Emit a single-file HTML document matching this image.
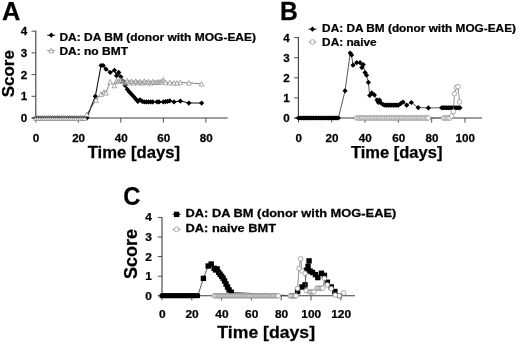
<!DOCTYPE html>
<html><head><meta charset="utf-8"><title>Figure</title>
<style>
html,body{margin:0;padding:0;background:#fff;}
svg{display:block;will-change:transform;font-family:'Liberation Sans', sans-serif;font-weight:bold;}
</style></head><body>
<svg width="520" height="344" viewBox="0 0 520 344">
<rect width="520" height="344" fill="#fff"/>
<path d="M35.8,30.70V118" fill="none" stroke="#3c3c3c" stroke-width="1.1"/>
<path d="M31.799999999999997,118H227.7" fill="none" stroke="#3c3c3c" stroke-width="1.1"/>
<path d="M31.499999999999996,118.00H35.8" stroke="#3c3c3c" stroke-width="0.9"/>
<text transform="translate(27.20,122.00) scale(1.03,1.0)" font-size="11.3" text-anchor="end" fill="#000" stroke="#000" stroke-width="0.25">0</text>
<path d="M31.499999999999996,96.30H35.8" stroke="#3c3c3c" stroke-width="0.9"/>
<text transform="translate(27.20,100.30) scale(1.03,1.0)" font-size="11.3" text-anchor="end" fill="#000" stroke="#000" stroke-width="0.25">1</text>
<path d="M31.499999999999996,74.60H35.8" stroke="#3c3c3c" stroke-width="0.9"/>
<text transform="translate(27.20,78.60) scale(1.03,1.0)" font-size="11.3" text-anchor="end" fill="#000" stroke="#000" stroke-width="0.25">2</text>
<path d="M31.499999999999996,52.90H35.8" stroke="#3c3c3c" stroke-width="0.9"/>
<text transform="translate(27.20,56.90) scale(1.03,1.0)" font-size="11.3" text-anchor="end" fill="#000" stroke="#000" stroke-width="0.25">3</text>
<path d="M31.499999999999996,31.20H35.8" stroke="#3c3c3c" stroke-width="0.9"/>
<text transform="translate(27.20,35.20) scale(1.03,1.0)" font-size="11.3" text-anchor="end" fill="#000" stroke="#000" stroke-width="0.25">4</text>
<path d="M35.80,118V122.6" stroke="#3c3c3c" stroke-width="0.9"/>
<text transform="translate(36.10,141.70) scale(1.03,1.0)" font-size="11.3" text-anchor="middle" fill="#000" stroke="#000" stroke-width="0.25">0</text>
<path d="M78.32,118V122.6" stroke="#3c3c3c" stroke-width="0.9"/>
<text transform="translate(78.62,141.70) scale(1.03,1.0)" font-size="11.3" text-anchor="middle" fill="#000" stroke="#000" stroke-width="0.25">20</text>
<path d="M120.84,118V122.6" stroke="#3c3c3c" stroke-width="0.9"/>
<text transform="translate(121.14,141.70) scale(1.03,1.0)" font-size="11.3" text-anchor="middle" fill="#000" stroke="#000" stroke-width="0.25">40</text>
<path d="M163.36,118V122.6" stroke="#3c3c3c" stroke-width="0.9"/>
<text transform="translate(163.66,141.70) scale(1.03,1.0)" font-size="11.3" text-anchor="middle" fill="#000" stroke="#000" stroke-width="0.25">60</text>
<path d="M205.88,118V122.6" stroke="#3c3c3c" stroke-width="0.9"/>
<text transform="translate(206.18,141.70) scale(1.03,1.0)" font-size="11.3" text-anchor="middle" fill="#000" stroke="#000" stroke-width="0.25">80</text>
<path d="M35.80,118.00L37.93,118.00L40.05,118.00L42.18,118.00L44.30,118.00L46.43,118.00L48.56,118.00L50.68,118.00L52.81,118.00L54.93,118.00L57.06,118.00L59.19,118.00L61.31,118.00L63.44,118.00L65.56,118.00L67.69,118.00L69.82,118.00L71.94,118.00L74.07,118.00L76.19,118.00L78.32,118.00L80.45,118.00L82.57,118.00L84.70,118.00L86.82,118.00L95.33,96.30L101.07,65.49L103.19,65.49L105.96,69.18L110.21,72.43L114.46,70.26L116.59,75.69L118.71,72.43L120.84,76.77L122.97,81.11L125.09,85.45L127.22,89.36L129.34,91.96L131.47,94.13L133.60,96.52L135.72,98.90L137.85,101.51L139.97,99.77L142.10,101.29L144.23,101.94L146.35,101.94L148.48,101.94L150.60,101.94L152.73,101.94L156.98,101.94L159.11,101.94L163.36,101.94L165.49,101.62L167.61,101.29L169.74,100.86L173.99,101.94L180.37,101.07L188.87,103.03L201.63,103.03" fill="none" stroke="#111" stroke-width="1.1"/>
<path d="M33.20,118.00L35.80,115.40L38.40,118.00L35.80,120.60Z" fill="#000" stroke="none"/>
<path d="M35.33,118.00L37.93,115.40L40.53,118.00L37.93,120.60Z" fill="#000" stroke="none"/>
<path d="M37.45,118.00L40.05,115.40L42.65,118.00L40.05,120.60Z" fill="#000" stroke="none"/>
<path d="M39.58,118.00L42.18,115.40L44.78,118.00L42.18,120.60Z" fill="#000" stroke="none"/>
<path d="M41.70,118.00L44.30,115.40L46.90,118.00L44.30,120.60Z" fill="#000" stroke="none"/>
<path d="M43.83,118.00L46.43,115.40L49.03,118.00L46.43,120.60Z" fill="#000" stroke="none"/>
<path d="M45.96,118.00L48.56,115.40L51.16,118.00L48.56,120.60Z" fill="#000" stroke="none"/>
<path d="M48.08,118.00L50.68,115.40L53.28,118.00L50.68,120.60Z" fill="#000" stroke="none"/>
<path d="M50.21,118.00L52.81,115.40L55.41,118.00L52.81,120.60Z" fill="#000" stroke="none"/>
<path d="M52.33,118.00L54.93,115.40L57.53,118.00L54.93,120.60Z" fill="#000" stroke="none"/>
<path d="M54.46,118.00L57.06,115.40L59.66,118.00L57.06,120.60Z" fill="#000" stroke="none"/>
<path d="M56.59,118.00L59.19,115.40L61.79,118.00L59.19,120.60Z" fill="#000" stroke="none"/>
<path d="M58.71,118.00L61.31,115.40L63.91,118.00L61.31,120.60Z" fill="#000" stroke="none"/>
<path d="M60.84,118.00L63.44,115.40L66.04,118.00L63.44,120.60Z" fill="#000" stroke="none"/>
<path d="M62.96,118.00L65.56,115.40L68.16,118.00L65.56,120.60Z" fill="#000" stroke="none"/>
<path d="M65.09,118.00L67.69,115.40L70.29,118.00L67.69,120.60Z" fill="#000" stroke="none"/>
<path d="M67.22,118.00L69.82,115.40L72.42,118.00L69.82,120.60Z" fill="#000" stroke="none"/>
<path d="M69.34,118.00L71.94,115.40L74.54,118.00L71.94,120.60Z" fill="#000" stroke="none"/>
<path d="M71.47,118.00L74.07,115.40L76.67,118.00L74.07,120.60Z" fill="#000" stroke="none"/>
<path d="M73.59,118.00L76.19,115.40L78.79,118.00L76.19,120.60Z" fill="#000" stroke="none"/>
<path d="M75.72,118.00L78.32,115.40L80.92,118.00L78.32,120.60Z" fill="#000" stroke="none"/>
<path d="M77.85,118.00L80.45,115.40L83.05,118.00L80.45,120.60Z" fill="#000" stroke="none"/>
<path d="M79.97,118.00L82.57,115.40L85.17,118.00L82.57,120.60Z" fill="#000" stroke="none"/>
<path d="M82.10,118.00L84.70,115.40L87.30,118.00L84.70,120.60Z" fill="#000" stroke="none"/>
<path d="M84.22,118.00L86.82,115.40L89.42,118.00L86.82,120.60Z" fill="#000" stroke="none"/>
<path d="M92.73,96.30L95.33,93.70L97.93,96.30L95.33,98.90Z" fill="#000" stroke="none"/>
<path d="M98.47,65.49L101.07,62.89L103.67,65.49L101.07,68.09Z" fill="#000" stroke="none"/>
<path d="M100.59,65.49L103.19,62.89L105.79,65.49L103.19,68.09Z" fill="#000" stroke="none"/>
<path d="M103.36,69.18L105.96,66.58L108.56,69.18L105.96,71.78Z" fill="#000" stroke="none"/>
<path d="M107.61,72.43L110.21,69.83L112.81,72.43L110.21,75.03Z" fill="#000" stroke="none"/>
<path d="M111.86,70.26L114.46,67.66L117.06,70.26L114.46,72.86Z" fill="#000" stroke="none"/>
<path d="M113.99,75.69L116.59,73.09L119.19,75.69L116.59,78.28Z" fill="#000" stroke="none"/>
<path d="M116.11,72.43L118.71,69.83L121.31,72.43L118.71,75.03Z" fill="#000" stroke="none"/>
<path d="M118.24,76.77L120.84,74.17L123.44,76.77L120.84,79.37Z" fill="#000" stroke="none"/>
<path d="M120.37,81.11L122.97,78.51L125.57,81.11L122.97,83.71Z" fill="#000" stroke="none"/>
<path d="M122.49,85.45L125.09,82.85L127.69,85.45L125.09,88.05Z" fill="#000" stroke="none"/>
<path d="M124.62,89.36L127.22,86.76L129.82,89.36L127.22,91.96Z" fill="#000" stroke="none"/>
<path d="M126.74,91.96L129.34,89.36L131.94,91.96L129.34,94.56Z" fill="#000" stroke="none"/>
<path d="M128.87,94.13L131.47,91.53L134.07,94.13L131.47,96.73Z" fill="#000" stroke="none"/>
<path d="M131.00,96.52L133.60,93.92L136.20,96.52L133.60,99.12Z" fill="#000" stroke="none"/>
<path d="M133.12,98.90L135.72,96.30L138.32,98.90L135.72,101.50Z" fill="#000" stroke="none"/>
<path d="M135.25,101.51L137.85,98.91L140.45,101.51L137.85,104.11Z" fill="#000" stroke="none"/>
<path d="M137.37,99.77L139.97,97.17L142.57,99.77L139.97,102.37Z" fill="#000" stroke="none"/>
<path d="M139.50,101.29L142.10,98.69L144.70,101.29L142.10,103.89Z" fill="#000" stroke="none"/>
<path d="M141.63,101.94L144.23,99.34L146.83,101.94L144.23,104.54Z" fill="#000" stroke="none"/>
<path d="M143.75,101.94L146.35,99.34L148.95,101.94L146.35,104.54Z" fill="#000" stroke="none"/>
<path d="M145.88,101.94L148.48,99.34L151.08,101.94L148.48,104.54Z" fill="#000" stroke="none"/>
<path d="M148.00,101.94L150.60,99.34L153.20,101.94L150.60,104.54Z" fill="#000" stroke="none"/>
<path d="M150.13,101.94L152.73,99.34L155.33,101.94L152.73,104.54Z" fill="#000" stroke="none"/>
<path d="M154.38,101.94L156.98,99.34L159.58,101.94L156.98,104.54Z" fill="#000" stroke="none"/>
<path d="M156.51,101.94L159.11,99.34L161.71,101.94L159.11,104.54Z" fill="#000" stroke="none"/>
<path d="M160.76,101.94L163.36,99.34L165.96,101.94L163.36,104.54Z" fill="#000" stroke="none"/>
<path d="M162.89,101.62L165.49,99.02L168.09,101.62L165.49,104.22Z" fill="#000" stroke="none"/>
<path d="M165.01,101.29L167.61,98.69L170.21,101.29L167.61,103.89Z" fill="#000" stroke="none"/>
<path d="M167.14,100.86L169.74,98.26L172.34,100.86L169.74,103.46Z" fill="#000" stroke="none"/>
<path d="M171.39,101.94L173.99,99.34L176.59,101.94L173.99,104.54Z" fill="#000" stroke="none"/>
<path d="M177.77,101.07L180.37,98.47L182.97,101.07L180.37,103.67Z" fill="#000" stroke="none"/>
<path d="M186.27,103.03L188.87,100.43L191.47,103.03L188.87,105.63Z" fill="#000" stroke="none"/>
<path d="M199.03,103.03L201.63,100.43L204.23,103.03L201.63,105.63Z" fill="#000" stroke="none"/>
<path d="M35.80,118.00L37.93,118.00L40.05,118.00L42.18,118.00L44.30,118.00L46.43,118.00L48.56,118.00L50.68,118.00L52.81,118.00L54.93,118.00L57.06,118.00L59.19,118.00L61.31,118.00L63.44,118.00L65.56,118.00L67.69,118.00L69.82,118.00L71.94,118.00L74.07,118.00L76.19,118.00L78.32,118.00L80.45,118.00L82.57,118.00L84.70,118.00L86.82,114.31L95.97,99.99L101.07,94.13L103.83,91.96L105.96,92.83L110.21,81.76L114.46,85.45L116.59,80.68L118.71,81.11L120.84,80.03L122.97,81.11L125.09,82.85L127.22,80.68L129.34,82.41L131.47,81.11L133.60,82.85L135.72,81.11L137.85,82.41L139.97,81.54L142.10,82.85L144.23,81.11L146.35,82.41L148.48,81.54L150.60,82.85L152.73,81.54L154.86,82.41L156.98,81.98L159.11,81.98L161.23,81.54L163.36,79.81L165.49,82.41L169.74,82.41L173.99,82.85L177.18,82.85L180.37,82.41L188.87,82.85L201.63,83.82" fill="none" stroke="#4a4a4a" stroke-width="0.7"/>
<path d="M33.50,120.30L35.80,115.70L38.10,120.30Z" fill="#fff" fill-opacity="1" stroke="#858585" stroke-width="0.7"/>
<path d="M35.63,120.30L37.93,115.70L40.23,120.30Z" fill="#fff" fill-opacity="1" stroke="#858585" stroke-width="0.7"/>
<path d="M37.75,120.30L40.05,115.70L42.35,120.30Z" fill="#fff" fill-opacity="1" stroke="#858585" stroke-width="0.7"/>
<path d="M39.88,120.30L42.18,115.70L44.48,120.30Z" fill="#fff" fill-opacity="1" stroke="#858585" stroke-width="0.7"/>
<path d="M42.00,120.30L44.30,115.70L46.60,120.30Z" fill="#fff" fill-opacity="1" stroke="#858585" stroke-width="0.7"/>
<path d="M44.13,120.30L46.43,115.70L48.73,120.30Z" fill="#fff" fill-opacity="1" stroke="#858585" stroke-width="0.7"/>
<path d="M46.26,120.30L48.56,115.70L50.86,120.30Z" fill="#fff" fill-opacity="1" stroke="#858585" stroke-width="0.7"/>
<path d="M48.38,120.30L50.68,115.70L52.98,120.30Z" fill="#fff" fill-opacity="1" stroke="#858585" stroke-width="0.7"/>
<path d="M50.51,120.30L52.81,115.70L55.11,120.30Z" fill="#fff" fill-opacity="1" stroke="#858585" stroke-width="0.7"/>
<path d="M52.63,120.30L54.93,115.70L57.23,120.30Z" fill="#fff" fill-opacity="1" stroke="#858585" stroke-width="0.7"/>
<path d="M54.76,120.30L57.06,115.70L59.36,120.30Z" fill="#fff" fill-opacity="1" stroke="#858585" stroke-width="0.7"/>
<path d="M56.89,120.30L59.19,115.70L61.49,120.30Z" fill="#fff" fill-opacity="1" stroke="#858585" stroke-width="0.7"/>
<path d="M59.01,120.30L61.31,115.70L63.61,120.30Z" fill="#fff" fill-opacity="1" stroke="#858585" stroke-width="0.7"/>
<path d="M61.14,120.30L63.44,115.70L65.74,120.30Z" fill="#fff" fill-opacity="1" stroke="#858585" stroke-width="0.7"/>
<path d="M63.26,120.30L65.56,115.70L67.86,120.30Z" fill="#fff" fill-opacity="1" stroke="#858585" stroke-width="0.7"/>
<path d="M65.39,120.30L67.69,115.70L69.99,120.30Z" fill="#fff" fill-opacity="1" stroke="#858585" stroke-width="0.7"/>
<path d="M67.52,120.30L69.82,115.70L72.12,120.30Z" fill="#fff" fill-opacity="1" stroke="#858585" stroke-width="0.7"/>
<path d="M69.64,120.30L71.94,115.70L74.24,120.30Z" fill="#fff" fill-opacity="1" stroke="#858585" stroke-width="0.7"/>
<path d="M71.77,120.30L74.07,115.70L76.37,120.30Z" fill="#fff" fill-opacity="1" stroke="#858585" stroke-width="0.7"/>
<path d="M73.89,120.30L76.19,115.70L78.49,120.30Z" fill="#fff" fill-opacity="1" stroke="#858585" stroke-width="0.7"/>
<path d="M76.02,120.30L78.32,115.70L80.62,120.30Z" fill="#fff" fill-opacity="1" stroke="#858585" stroke-width="0.7"/>
<path d="M78.15,120.30L80.45,115.70L82.75,120.30Z" fill="#fff" fill-opacity="1" stroke="#858585" stroke-width="0.7"/>
<path d="M80.27,120.30L82.57,115.70L84.87,120.30Z" fill="#fff" fill-opacity="1" stroke="#858585" stroke-width="0.7"/>
<path d="M82.40,120.30L84.70,115.70L87.00,120.30Z" fill="#fff" fill-opacity="1" stroke="#858585" stroke-width="0.7"/>
<path d="M84.52,116.61L86.82,112.01L89.12,116.61Z" fill="#fff" fill-opacity="1" stroke="#858585" stroke-width="0.7"/>
<path d="M93.67,102.29L95.97,97.69L98.27,102.29Z" fill="#fff" fill-opacity="1" stroke="#858585" stroke-width="0.7"/>
<path d="M98.77,96.43L101.07,91.83L103.37,96.43Z" fill="#fff" fill-opacity="1" stroke="#858585" stroke-width="0.7"/>
<path d="M101.53,94.26L103.83,89.66L106.13,94.26Z" fill="#fff" fill-opacity="0.4" stroke="#858585" stroke-width="0.7"/>
<path d="M103.66,95.13L105.96,90.53L108.26,95.13Z" fill="#fff" fill-opacity="1" stroke="#858585" stroke-width="0.7"/>
<path d="M107.91,84.06L110.21,79.46L112.51,84.06Z" fill="#fff" fill-opacity="1" stroke="#858585" stroke-width="0.7"/>
<path d="M112.16,87.75L114.46,83.15L116.76,87.75Z" fill="#fff" fill-opacity="1" stroke="#858585" stroke-width="0.7"/>
<path d="M114.29,82.98L116.59,78.38L118.89,82.98Z" fill="#fff" fill-opacity="0.4" stroke="#858585" stroke-width="0.7"/>
<path d="M116.41,83.41L118.71,78.81L121.01,83.41Z" fill="#fff" fill-opacity="0.4" stroke="#858585" stroke-width="0.7"/>
<path d="M118.54,82.33L120.84,77.73L123.14,82.33Z" fill="#fff" fill-opacity="0.4" stroke="#858585" stroke-width="0.7"/>
<path d="M120.67,83.41L122.97,78.81L125.27,83.41Z" fill="#fff" fill-opacity="0.4" stroke="#858585" stroke-width="0.7"/>
<path d="M122.79,85.15L125.09,80.55L127.39,85.15Z" fill="#fff" fill-opacity="0.4" stroke="#858585" stroke-width="0.7"/>
<path d="M124.92,82.98L127.22,78.38L129.52,82.98Z" fill="#fff" fill-opacity="0.4" stroke="#858585" stroke-width="0.7"/>
<path d="M127.04,84.71L129.34,80.11L131.64,84.71Z" fill="#fff" fill-opacity="0.4" stroke="#858585" stroke-width="0.7"/>
<path d="M129.17,83.41L131.47,78.81L133.77,83.41Z" fill="#fff" fill-opacity="0.4" stroke="#858585" stroke-width="0.7"/>
<path d="M131.30,85.15L133.60,80.55L135.90,85.15Z" fill="#fff" fill-opacity="0.4" stroke="#858585" stroke-width="0.7"/>
<path d="M133.42,83.41L135.72,78.81L138.02,83.41Z" fill="#fff" fill-opacity="0.4" stroke="#858585" stroke-width="0.7"/>
<path d="M135.55,84.71L137.85,80.11L140.15,84.71Z" fill="#fff" fill-opacity="0.4" stroke="#858585" stroke-width="0.7"/>
<path d="M137.67,83.84L139.97,79.24L142.27,83.84Z" fill="#fff" fill-opacity="0.4" stroke="#858585" stroke-width="0.7"/>
<path d="M139.80,85.15L142.10,80.55L144.40,85.15Z" fill="#fff" fill-opacity="0.4" stroke="#858585" stroke-width="0.7"/>
<path d="M141.93,83.41L144.23,78.81L146.53,83.41Z" fill="#fff" fill-opacity="0.4" stroke="#858585" stroke-width="0.7"/>
<path d="M144.05,84.71L146.35,80.11L148.65,84.71Z" fill="#fff" fill-opacity="0.4" stroke="#858585" stroke-width="0.7"/>
<path d="M146.18,83.84L148.48,79.24L150.78,83.84Z" fill="#fff" fill-opacity="0.4" stroke="#858585" stroke-width="0.7"/>
<path d="M148.30,85.15L150.60,80.55L152.90,85.15Z" fill="#fff" fill-opacity="0.4" stroke="#858585" stroke-width="0.7"/>
<path d="M150.43,83.84L152.73,79.24L155.03,83.84Z" fill="#fff" fill-opacity="0.4" stroke="#858585" stroke-width="0.7"/>
<path d="M152.56,84.71L154.86,80.11L157.16,84.71Z" fill="#fff" fill-opacity="0.4" stroke="#858585" stroke-width="0.7"/>
<path d="M154.68,84.28L156.98,79.68L159.28,84.28Z" fill="#fff" fill-opacity="0.4" stroke="#858585" stroke-width="0.7"/>
<path d="M156.81,84.28L159.11,79.68L161.41,84.28Z" fill="#fff" fill-opacity="0.4" stroke="#858585" stroke-width="0.7"/>
<path d="M158.93,83.84L161.23,79.24L163.53,83.84Z" fill="#fff" fill-opacity="0.4" stroke="#858585" stroke-width="0.7"/>
<path d="M161.06,82.11L163.36,77.51L165.66,82.11Z" fill="#fff" fill-opacity="0.4" stroke="#858585" stroke-width="0.7"/>
<path d="M163.19,84.71L165.49,80.11L167.79,84.71Z" fill="#fff" fill-opacity="1" stroke="#858585" stroke-width="0.7"/>
<path d="M167.44,84.71L169.74,80.11L172.04,84.71Z" fill="#fff" fill-opacity="1" stroke="#858585" stroke-width="0.7"/>
<path d="M171.69,85.15L173.99,80.55L176.29,85.15Z" fill="#fff" fill-opacity="1" stroke="#858585" stroke-width="0.7"/>
<path d="M174.88,85.15L177.18,80.55L179.48,85.15Z" fill="#fff" fill-opacity="1" stroke="#858585" stroke-width="0.7"/>
<path d="M178.07,84.71L180.37,80.11L182.67,84.71Z" fill="#fff" fill-opacity="1" stroke="#858585" stroke-width="0.7"/>
<path d="M186.57,85.15L188.87,80.55L191.17,85.15Z" fill="#fff" fill-opacity="1" stroke="#858585" stroke-width="0.7"/>
<path d="M199.33,86.12L201.63,81.52L203.93,86.12Z" fill="#fff" fill-opacity="1" stroke="#858585" stroke-width="0.7"/>
<path d="M34.80,117.50H85.76" stroke="#222" stroke-width="1.3" stroke-opacity="0.6"/>
<path d="M47.2,35.2H55.2" stroke="#000" stroke-width="0.9"/>
<path d="M48.60,35.20L51.20,32.60L53.80,35.20L51.20,37.80Z" fill="#000" stroke="none"/>
<text transform="translate(59.40,41.30) scale(1.053,1.0)" font-size="11.4" text-anchor="start" fill="#000" stroke="#000" stroke-width="0.25">DA: DA BM (donor with MOG-EAE)</text>
<path d="M47.2,50.5H55.2" stroke="#888" stroke-width="0.9"/>
<path d="M48.90,52.80L51.20,48.20L53.50,52.80Z" fill="#fff" fill-opacity="1" stroke="#858585" stroke-width="0.7"/>
<text transform="translate(59.40,54.90) scale(1.053,1.0)" font-size="11.4" text-anchor="start" fill="#000" stroke="#000" stroke-width="0.25">DA: no BMT</text>
<text transform="translate(133.90,158.40) scale(1.012,1.0)" font-size="16.5" text-anchor="middle" fill="#000" stroke="#000" stroke-width="0.25">Time [days]</text>
<text transform="translate(13.80,73.70) rotate(-90) scale(1.0,1.02)" font-size="17.0" text-anchor="middle" fill="#000" stroke="#000" stroke-width="0.25">Score</text>
<text transform="translate(2.10,19.80)" font-size="25.4" text-anchor="start" fill="#000" stroke="#000" stroke-width="0.25">A</text>
<path d="M298.4,37.10V118" fill="none" stroke="#3c3c3c" stroke-width="1.1"/>
<path d="M294.4,118H482" fill="none" stroke="#3c3c3c" stroke-width="1.1"/>
<path d="M294.09999999999997,118.00H298.4" stroke="#3c3c3c" stroke-width="0.9"/>
<text transform="translate(289.80,122.00) scale(1.03,1.0)" font-size="11.3" text-anchor="end" fill="#000" stroke="#000" stroke-width="0.25">0</text>
<path d="M294.09999999999997,97.90H298.4" stroke="#3c3c3c" stroke-width="0.9"/>
<text transform="translate(289.80,101.90) scale(1.03,1.0)" font-size="11.3" text-anchor="end" fill="#000" stroke="#000" stroke-width="0.25">1</text>
<path d="M294.09999999999997,77.80H298.4" stroke="#3c3c3c" stroke-width="0.9"/>
<text transform="translate(289.80,81.80) scale(1.03,1.0)" font-size="11.3" text-anchor="end" fill="#000" stroke="#000" stroke-width="0.25">2</text>
<path d="M294.09999999999997,57.70H298.4" stroke="#3c3c3c" stroke-width="0.9"/>
<text transform="translate(289.80,61.70) scale(1.03,1.0)" font-size="11.3" text-anchor="end" fill="#000" stroke="#000" stroke-width="0.25">3</text>
<path d="M294.09999999999997,37.60H298.4" stroke="#3c3c3c" stroke-width="0.9"/>
<text transform="translate(289.80,41.60) scale(1.03,1.0)" font-size="11.3" text-anchor="end" fill="#000" stroke="#000" stroke-width="0.25">4</text>
<path d="M298.40,118V122.6" stroke="#3c3c3c" stroke-width="0.9"/>
<text transform="translate(298.70,141.70) scale(1.03,1.0)" font-size="11.3" text-anchor="middle" fill="#000" stroke="#000" stroke-width="0.25">0</text>
<path d="M331.72,118V122.6" stroke="#3c3c3c" stroke-width="0.9"/>
<text transform="translate(332.02,141.70) scale(1.03,1.0)" font-size="11.3" text-anchor="middle" fill="#000" stroke="#000" stroke-width="0.25">20</text>
<path d="M365.04,118V122.6" stroke="#3c3c3c" stroke-width="0.9"/>
<text transform="translate(365.34,141.70) scale(1.03,1.0)" font-size="11.3" text-anchor="middle" fill="#000" stroke="#000" stroke-width="0.25">40</text>
<path d="M398.36,118V122.6" stroke="#3c3c3c" stroke-width="0.9"/>
<text transform="translate(398.66,141.70) scale(1.03,1.0)" font-size="11.3" text-anchor="middle" fill="#000" stroke="#000" stroke-width="0.25">60</text>
<path d="M431.68,118V122.6" stroke="#3c3c3c" stroke-width="0.9"/>
<text transform="translate(431.98,141.70) scale(1.03,1.0)" font-size="11.3" text-anchor="middle" fill="#000" stroke="#000" stroke-width="0.25">80</text>
<path d="M465.00,118V122.6" stroke="#3c3c3c" stroke-width="0.9"/>
<text transform="translate(465.30,141.70) scale(1.03,1.0)" font-size="11.3" text-anchor="middle" fill="#000" stroke="#000" stroke-width="0.25">100</text>
<path d="M298.40,118.00L300.07,118.00L301.73,118.00L303.40,118.00L305.06,118.00L306.73,118.00L308.40,118.00L310.06,118.00L311.73,118.00L313.39,118.00L315.06,118.00L316.73,118.00L318.39,118.00L320.06,118.00L321.72,118.00L323.39,118.00L325.06,118.00L326.72,118.00L328.39,118.00L330.05,118.00L331.72,118.00L333.39,118.00L335.05,118.00L336.72,118.00L338.38,118.00L345.05,90.86L350.21,53.08L351.55,54.89L353.04,65.14L356.71,62.72L360.04,62.72L361.87,67.55L363.21,64.53L365.04,72.57L366.54,75.19L368.37,82.42L369.70,95.49L371.70,92.88L374.37,94.89L377.04,100.11L378.37,102.52L379.53,100.11L381.20,103.13L383.37,104.73L385.03,105.14L386.70,105.14L388.36,105.14L390.03,105.14L391.70,105.14L393.36,105.14L395.03,105.14L396.69,105.14L398.36,105.14L400.69,103.53L403.02,102.12L406.69,105.14L411.35,102.52L418.19,107.55L428.35,107.95L441.68,107.75L443.34,107.75L445.01,107.75L446.67,107.75L448.34,107.75L450.01,107.75L451.67,107.75L453.34,107.75L455.00,107.75L456.67,107.75L458.34,107.75L460.00,107.75" fill="none" stroke="#111" stroke-width="0.7"/>
<path d="M298.40,118.00H338.38" stroke="#000" stroke-width="3.8"/>
<path d="M385.03,105.14H398.36" stroke="#000" stroke-width="3.8"/>
<path d="M441.68,107.75H460.00" stroke="#000" stroke-width="3.8"/>
<path d="M295.80,118.00L298.40,115.40L301.00,118.00L298.40,120.60Z" fill="#000" stroke="none"/>
<path d="M297.47,118.00L300.07,115.40L302.67,118.00L300.07,120.60Z" fill="#000" stroke="none"/>
<path d="M299.13,118.00L301.73,115.40L304.33,118.00L301.73,120.60Z" fill="#000" stroke="none"/>
<path d="M300.80,118.00L303.40,115.40L306.00,118.00L303.40,120.60Z" fill="#000" stroke="none"/>
<path d="M302.46,118.00L305.06,115.40L307.66,118.00L305.06,120.60Z" fill="#000" stroke="none"/>
<path d="M304.13,118.00L306.73,115.40L309.33,118.00L306.73,120.60Z" fill="#000" stroke="none"/>
<path d="M305.80,118.00L308.40,115.40L311.00,118.00L308.40,120.60Z" fill="#000" stroke="none"/>
<path d="M307.46,118.00L310.06,115.40L312.66,118.00L310.06,120.60Z" fill="#000" stroke="none"/>
<path d="M309.13,118.00L311.73,115.40L314.33,118.00L311.73,120.60Z" fill="#000" stroke="none"/>
<path d="M310.79,118.00L313.39,115.40L315.99,118.00L313.39,120.60Z" fill="#000" stroke="none"/>
<path d="M312.46,118.00L315.06,115.40L317.66,118.00L315.06,120.60Z" fill="#000" stroke="none"/>
<path d="M314.13,118.00L316.73,115.40L319.33,118.00L316.73,120.60Z" fill="#000" stroke="none"/>
<path d="M315.79,118.00L318.39,115.40L320.99,118.00L318.39,120.60Z" fill="#000" stroke="none"/>
<path d="M317.46,118.00L320.06,115.40L322.66,118.00L320.06,120.60Z" fill="#000" stroke="none"/>
<path d="M319.12,118.00L321.72,115.40L324.32,118.00L321.72,120.60Z" fill="#000" stroke="none"/>
<path d="M320.79,118.00L323.39,115.40L325.99,118.00L323.39,120.60Z" fill="#000" stroke="none"/>
<path d="M322.46,118.00L325.06,115.40L327.66,118.00L325.06,120.60Z" fill="#000" stroke="none"/>
<path d="M324.12,118.00L326.72,115.40L329.32,118.00L326.72,120.60Z" fill="#000" stroke="none"/>
<path d="M325.79,118.00L328.39,115.40L330.99,118.00L328.39,120.60Z" fill="#000" stroke="none"/>
<path d="M327.45,118.00L330.05,115.40L332.65,118.00L330.05,120.60Z" fill="#000" stroke="none"/>
<path d="M329.12,118.00L331.72,115.40L334.32,118.00L331.72,120.60Z" fill="#000" stroke="none"/>
<path d="M330.79,118.00L333.39,115.40L335.99,118.00L333.39,120.60Z" fill="#000" stroke="none"/>
<path d="M332.45,118.00L335.05,115.40L337.65,118.00L335.05,120.60Z" fill="#000" stroke="none"/>
<path d="M334.12,118.00L336.72,115.40L339.32,118.00L336.72,120.60Z" fill="#000" stroke="none"/>
<path d="M335.78,118.00L338.38,115.40L340.98,118.00L338.38,120.60Z" fill="#000" stroke="none"/>
<path d="M342.45,90.86L345.05,88.27L347.65,90.86L345.05,93.46Z" fill="#000" stroke="none"/>
<path d="M347.61,53.08L350.21,50.48L352.81,53.08L350.21,55.68Z" fill="#000" stroke="none"/>
<path d="M348.95,54.89L351.55,52.29L354.15,54.89L351.55,57.49Z" fill="#000" stroke="none"/>
<path d="M350.44,65.14L353.04,62.54L355.64,65.14L353.04,67.74Z" fill="#000" stroke="none"/>
<path d="M354.11,62.72L356.71,60.12L359.31,62.72L356.71,65.32Z" fill="#000" stroke="none"/>
<path d="M357.44,62.72L360.04,60.12L362.64,62.72L360.04,65.32Z" fill="#000" stroke="none"/>
<path d="M359.27,67.55L361.87,64.95L364.47,67.55L361.87,70.15Z" fill="#000" stroke="none"/>
<path d="M360.61,64.53L363.21,61.93L365.81,64.53L363.21,67.13Z" fill="#000" stroke="none"/>
<path d="M362.44,72.57L365.04,69.97L367.64,72.57L365.04,75.17Z" fill="#000" stroke="none"/>
<path d="M363.94,75.19L366.54,72.59L369.14,75.19L366.54,77.79Z" fill="#000" stroke="none"/>
<path d="M365.77,82.42L368.37,79.82L370.97,82.42L368.37,85.02Z" fill="#000" stroke="none"/>
<path d="M367.10,95.49L369.70,92.89L372.30,95.49L369.70,98.09Z" fill="#000" stroke="none"/>
<path d="M369.10,92.88L371.70,90.28L374.30,92.88L371.70,95.47Z" fill="#000" stroke="none"/>
<path d="M371.77,94.89L374.37,92.29L376.97,94.89L374.37,97.48Z" fill="#000" stroke="none"/>
<path d="M374.44,100.11L377.04,97.51L379.64,100.11L377.04,102.71Z" fill="#000" stroke="none"/>
<path d="M375.77,102.52L378.37,99.92L380.97,102.52L378.37,105.12Z" fill="#000" stroke="none"/>
<path d="M376.93,100.11L379.53,97.51L382.13,100.11L379.53,102.71Z" fill="#000" stroke="none"/>
<path d="M378.60,103.13L381.20,100.53L383.80,103.13L381.20,105.73Z" fill="#000" stroke="none"/>
<path d="M380.77,104.73L383.37,102.13L385.97,104.73L383.37,107.33Z" fill="#000" stroke="none"/>
<path d="M382.43,105.14L385.03,102.54L387.63,105.14L385.03,107.74Z" fill="#000" stroke="none"/>
<path d="M384.10,105.14L386.70,102.54L389.30,105.14L386.70,107.74Z" fill="#000" stroke="none"/>
<path d="M385.76,105.14L388.36,102.54L390.96,105.14L388.36,107.74Z" fill="#000" stroke="none"/>
<path d="M387.43,105.14L390.03,102.54L392.63,105.14L390.03,107.74Z" fill="#000" stroke="none"/>
<path d="M389.10,105.14L391.70,102.54L394.30,105.14L391.70,107.74Z" fill="#000" stroke="none"/>
<path d="M390.76,105.14L393.36,102.54L395.96,105.14L393.36,107.74Z" fill="#000" stroke="none"/>
<path d="M392.43,105.14L395.03,102.54L397.63,105.14L395.03,107.74Z" fill="#000" stroke="none"/>
<path d="M394.09,105.14L396.69,102.54L399.29,105.14L396.69,107.74Z" fill="#000" stroke="none"/>
<path d="M395.76,105.14L398.36,102.54L400.96,105.14L398.36,107.74Z" fill="#000" stroke="none"/>
<path d="M398.09,103.53L400.69,100.93L403.29,103.53L400.69,106.13Z" fill="#000" stroke="none"/>
<path d="M400.42,102.12L403.02,99.52L405.62,102.12L403.02,104.72Z" fill="#000" stroke="none"/>
<path d="M404.09,105.14L406.69,102.54L409.29,105.14L406.69,107.74Z" fill="#000" stroke="none"/>
<path d="M408.75,102.52L411.35,99.92L413.95,102.52L411.35,105.12Z" fill="#000" stroke="none"/>
<path d="M415.59,107.55L418.19,104.95L420.79,107.55L418.19,110.15Z" fill="#000" stroke="none"/>
<path d="M425.75,107.95L428.35,105.35L430.95,107.95L428.35,110.55Z" fill="#000" stroke="none"/>
<path d="M439.08,107.75L441.68,105.15L444.28,107.75L441.68,110.35Z" fill="#000" stroke="none"/>
<path d="M440.74,107.75L443.34,105.15L445.94,107.75L443.34,110.35Z" fill="#000" stroke="none"/>
<path d="M442.41,107.75L445.01,105.15L447.61,107.75L445.01,110.35Z" fill="#000" stroke="none"/>
<path d="M444.07,107.75L446.67,105.15L449.27,107.75L446.67,110.35Z" fill="#000" stroke="none"/>
<path d="M445.74,107.75L448.34,105.15L450.94,107.75L448.34,110.35Z" fill="#000" stroke="none"/>
<path d="M447.41,107.75L450.01,105.15L452.61,107.75L450.01,110.35Z" fill="#000" stroke="none"/>
<path d="M449.07,107.75L451.67,105.15L454.27,107.75L451.67,110.35Z" fill="#000" stroke="none"/>
<path d="M450.74,107.75L453.34,105.15L455.94,107.75L453.34,110.35Z" fill="#000" stroke="none"/>
<path d="M452.40,107.75L455.00,105.15L457.60,107.75L455.00,110.35Z" fill="#000" stroke="none"/>
<path d="M454.07,107.75L456.67,105.15L459.27,107.75L456.67,110.35Z" fill="#000" stroke="none"/>
<path d="M455.74,107.75L458.34,105.15L460.94,107.75L458.34,110.35Z" fill="#000" stroke="none"/>
<path d="M457.40,107.75L460.00,105.15L462.60,107.75L460.00,110.35Z" fill="#000" stroke="none"/>
<path d="M356.71,118.00L358.38,118.00L360.04,118.00L361.71,118.00L363.37,118.00L365.04,118.00L366.71,118.00L368.37,118.00L370.04,118.00L371.70,118.00L373.37,118.00L375.04,118.00L376.70,118.00L378.37,118.00L380.03,118.00L381.70,118.00L383.37,118.00L385.03,118.00L386.70,118.00L388.36,118.00L390.03,118.00L391.70,118.00L393.36,118.00L395.03,118.00L396.69,118.00L398.36,118.00L400.03,118.00L401.69,118.00L403.36,118.00L405.02,118.00L406.69,118.00L408.36,118.00L410.02,118.00L411.69,118.00L413.35,118.00L415.02,118.00L416.69,118.00L418.35,118.00L420.02,118.00L421.68,118.00L423.35,118.00L425.02,118.00L426.68,118.00L428.35,118.00L443.34,118.00L445.01,118.00L446.67,118.00L448.34,118.00L450.01,118.00L451.67,115.99L453.34,111.57L454.50,93.68L456.34,87.45L458.00,86.64L459.50,101.92" fill="none" stroke="#666" stroke-width="0.7"/>
<circle cx="356.71" cy="118.00" r="2.3" fill="#fff"/>
<circle cx="358.38" cy="118.00" r="2.3" fill="#fff"/>
<circle cx="360.04" cy="118.00" r="2.3" fill="#fff"/>
<circle cx="361.71" cy="118.00" r="2.3" fill="#fff"/>
<circle cx="363.37" cy="118.00" r="2.3" fill="#fff"/>
<circle cx="365.04" cy="118.00" r="2.3" fill="#fff"/>
<circle cx="366.71" cy="118.00" r="2.3" fill="#fff"/>
<circle cx="368.37" cy="118.00" r="2.3" fill="#fff"/>
<circle cx="370.04" cy="118.00" r="2.3" fill="#fff"/>
<circle cx="371.70" cy="118.00" r="2.3" fill="#fff"/>
<circle cx="373.37" cy="118.00" r="2.3" fill="#fff"/>
<circle cx="375.04" cy="118.00" r="2.3" fill="#fff"/>
<circle cx="376.70" cy="118.00" r="2.3" fill="#fff"/>
<circle cx="378.37" cy="118.00" r="2.3" fill="#fff"/>
<circle cx="380.03" cy="118.00" r="2.3" fill="#fff"/>
<circle cx="381.70" cy="118.00" r="2.3" fill="#fff"/>
<circle cx="383.37" cy="118.00" r="2.3" fill="#fff"/>
<circle cx="385.03" cy="118.00" r="2.3" fill="#fff"/>
<circle cx="386.70" cy="118.00" r="2.3" fill="#fff"/>
<circle cx="388.36" cy="118.00" r="2.3" fill="#fff"/>
<circle cx="390.03" cy="118.00" r="2.3" fill="#fff"/>
<circle cx="391.70" cy="118.00" r="2.3" fill="#fff"/>
<circle cx="393.36" cy="118.00" r="2.3" fill="#fff"/>
<circle cx="395.03" cy="118.00" r="2.3" fill="#fff"/>
<circle cx="396.69" cy="118.00" r="2.3" fill="#fff"/>
<circle cx="398.36" cy="118.00" r="2.3" fill="#fff"/>
<circle cx="400.03" cy="118.00" r="2.3" fill="#fff"/>
<circle cx="401.69" cy="118.00" r="2.3" fill="#fff"/>
<circle cx="403.36" cy="118.00" r="2.3" fill="#fff"/>
<circle cx="405.02" cy="118.00" r="2.3" fill="#fff"/>
<circle cx="406.69" cy="118.00" r="2.3" fill="#fff"/>
<circle cx="408.36" cy="118.00" r="2.3" fill="#fff"/>
<circle cx="410.02" cy="118.00" r="2.3" fill="#fff"/>
<circle cx="411.69" cy="118.00" r="2.3" fill="#fff"/>
<circle cx="413.35" cy="118.00" r="2.3" fill="#fff"/>
<circle cx="415.02" cy="118.00" r="2.3" fill="#fff"/>
<circle cx="416.69" cy="118.00" r="2.3" fill="#fff"/>
<circle cx="418.35" cy="118.00" r="2.3" fill="#fff"/>
<circle cx="420.02" cy="118.00" r="2.3" fill="#fff"/>
<circle cx="421.68" cy="118.00" r="2.3" fill="#fff"/>
<circle cx="423.35" cy="118.00" r="2.3" fill="#fff"/>
<circle cx="425.02" cy="118.00" r="2.3" fill="#fff"/>
<circle cx="426.68" cy="118.00" r="2.3" fill="#fff"/>
<circle cx="428.35" cy="118.00" r="2.3" fill="#fff"/>
<circle cx="443.34" cy="118.00" r="2.3" fill="#fff"/>
<circle cx="445.01" cy="118.00" r="2.3" fill="#fff"/>
<circle cx="446.67" cy="118.00" r="2.3" fill="#fff"/>
<circle cx="448.34" cy="118.00" r="2.3" fill="#fff"/>
<circle cx="450.01" cy="118.00" r="2.3" fill="#fff"/>
<circle cx="356.71" cy="118.00" r="2.3" fill="#fff" fill-opacity="0.6" stroke="#888" stroke-width="0.7"/>
<circle cx="358.38" cy="118.00" r="2.3" fill="#fff" fill-opacity="0.6" stroke="#888" stroke-width="0.7"/>
<circle cx="360.04" cy="118.00" r="2.3" fill="#fff" fill-opacity="0.6" stroke="#888" stroke-width="0.7"/>
<circle cx="361.71" cy="118.00" r="2.3" fill="#fff" fill-opacity="0.6" stroke="#888" stroke-width="0.7"/>
<circle cx="363.37" cy="118.00" r="2.3" fill="#fff" fill-opacity="0.6" stroke="#888" stroke-width="0.7"/>
<circle cx="365.04" cy="118.00" r="2.3" fill="#fff" fill-opacity="0.6" stroke="#888" stroke-width="0.7"/>
<circle cx="366.71" cy="118.00" r="2.3" fill="#fff" fill-opacity="0.6" stroke="#888" stroke-width="0.7"/>
<circle cx="368.37" cy="118.00" r="2.3" fill="#fff" fill-opacity="0.6" stroke="#888" stroke-width="0.7"/>
<circle cx="370.04" cy="118.00" r="2.3" fill="#fff" fill-opacity="0.6" stroke="#888" stroke-width="0.7"/>
<circle cx="371.70" cy="118.00" r="2.3" fill="#fff" fill-opacity="0.6" stroke="#888" stroke-width="0.7"/>
<circle cx="373.37" cy="118.00" r="2.3" fill="#fff" fill-opacity="0.6" stroke="#888" stroke-width="0.7"/>
<circle cx="375.04" cy="118.00" r="2.3" fill="#fff" fill-opacity="0.6" stroke="#888" stroke-width="0.7"/>
<circle cx="376.70" cy="118.00" r="2.3" fill="#fff" fill-opacity="0.6" stroke="#888" stroke-width="0.7"/>
<circle cx="378.37" cy="118.00" r="2.3" fill="#fff" fill-opacity="0.6" stroke="#888" stroke-width="0.7"/>
<circle cx="380.03" cy="118.00" r="2.3" fill="#fff" fill-opacity="0.6" stroke="#888" stroke-width="0.7"/>
<circle cx="381.70" cy="118.00" r="2.3" fill="#fff" fill-opacity="0.6" stroke="#888" stroke-width="0.7"/>
<circle cx="383.37" cy="118.00" r="2.3" fill="#fff" fill-opacity="0.6" stroke="#888" stroke-width="0.7"/>
<circle cx="385.03" cy="118.00" r="2.3" fill="#fff" fill-opacity="0.6" stroke="#888" stroke-width="0.7"/>
<circle cx="386.70" cy="118.00" r="2.3" fill="#fff" fill-opacity="0.6" stroke="#888" stroke-width="0.7"/>
<circle cx="388.36" cy="118.00" r="2.3" fill="#fff" fill-opacity="0.6" stroke="#888" stroke-width="0.7"/>
<circle cx="390.03" cy="118.00" r="2.3" fill="#fff" fill-opacity="0.6" stroke="#888" stroke-width="0.7"/>
<circle cx="391.70" cy="118.00" r="2.3" fill="#fff" fill-opacity="0.6" stroke="#888" stroke-width="0.7"/>
<circle cx="393.36" cy="118.00" r="2.3" fill="#fff" fill-opacity="0.6" stroke="#888" stroke-width="0.7"/>
<circle cx="395.03" cy="118.00" r="2.3" fill="#fff" fill-opacity="0.6" stroke="#888" stroke-width="0.7"/>
<circle cx="396.69" cy="118.00" r="2.3" fill="#fff" fill-opacity="0.6" stroke="#888" stroke-width="0.7"/>
<circle cx="398.36" cy="118.00" r="2.3" fill="#fff" fill-opacity="0.6" stroke="#888" stroke-width="0.7"/>
<circle cx="400.03" cy="118.00" r="2.3" fill="#fff" fill-opacity="0.6" stroke="#888" stroke-width="0.7"/>
<circle cx="401.69" cy="118.00" r="2.3" fill="#fff" fill-opacity="0.6" stroke="#888" stroke-width="0.7"/>
<circle cx="403.36" cy="118.00" r="2.3" fill="#fff" fill-opacity="0.6" stroke="#888" stroke-width="0.7"/>
<circle cx="405.02" cy="118.00" r="2.3" fill="#fff" fill-opacity="0.6" stroke="#888" stroke-width="0.7"/>
<circle cx="406.69" cy="118.00" r="2.3" fill="#fff" fill-opacity="0.6" stroke="#888" stroke-width="0.7"/>
<circle cx="408.36" cy="118.00" r="2.3" fill="#fff" fill-opacity="0.6" stroke="#888" stroke-width="0.7"/>
<circle cx="410.02" cy="118.00" r="2.3" fill="#fff" fill-opacity="0.6" stroke="#888" stroke-width="0.7"/>
<circle cx="411.69" cy="118.00" r="2.3" fill="#fff" fill-opacity="0.6" stroke="#888" stroke-width="0.7"/>
<circle cx="413.35" cy="118.00" r="2.3" fill="#fff" fill-opacity="0.6" stroke="#888" stroke-width="0.7"/>
<circle cx="415.02" cy="118.00" r="2.3" fill="#fff" fill-opacity="0.6" stroke="#888" stroke-width="0.7"/>
<circle cx="416.69" cy="118.00" r="2.3" fill="#fff" fill-opacity="0.6" stroke="#888" stroke-width="0.7"/>
<circle cx="418.35" cy="118.00" r="2.3" fill="#fff" fill-opacity="0.6" stroke="#888" stroke-width="0.7"/>
<circle cx="420.02" cy="118.00" r="2.3" fill="#fff" fill-opacity="0.6" stroke="#888" stroke-width="0.7"/>
<circle cx="421.68" cy="118.00" r="2.3" fill="#fff" fill-opacity="0.6" stroke="#888" stroke-width="0.7"/>
<circle cx="423.35" cy="118.00" r="2.3" fill="#fff" fill-opacity="0.6" stroke="#888" stroke-width="0.7"/>
<circle cx="425.02" cy="118.00" r="2.3" fill="#fff" fill-opacity="0.6" stroke="#888" stroke-width="0.7"/>
<circle cx="426.68" cy="118.00" r="2.3" fill="#fff" fill-opacity="0.6" stroke="#888" stroke-width="0.7"/>
<circle cx="428.35" cy="118.00" r="2.3" fill="#fff" fill-opacity="0.85" stroke="#888" stroke-width="0.7"/>
<circle cx="443.34" cy="118.00" r="2.3" fill="#fff" fill-opacity="0.6" stroke="#888" stroke-width="0.7"/>
<circle cx="445.01" cy="118.00" r="2.3" fill="#fff" fill-opacity="0.6" stroke="#888" stroke-width="0.7"/>
<circle cx="446.67" cy="118.00" r="2.3" fill="#fff" fill-opacity="0.6" stroke="#888" stroke-width="0.7"/>
<circle cx="448.34" cy="118.00" r="2.3" fill="#fff" fill-opacity="0.6" stroke="#888" stroke-width="0.7"/>
<circle cx="450.01" cy="118.00" r="2.3" fill="#fff" fill-opacity="0.85" stroke="#888" stroke-width="0.7"/>
<circle cx="451.67" cy="115.99" r="2.3" fill="#fff" fill-opacity="1" stroke="#888" stroke-width="0.7"/>
<circle cx="453.34" cy="111.57" r="2.3" fill="#fff" fill-opacity="1" stroke="#888" stroke-width="0.7"/>
<circle cx="454.50" cy="93.68" r="2.3" fill="#fff" fill-opacity="1" stroke="#888" stroke-width="0.7"/>
<circle cx="456.34" cy="87.45" r="2.3" fill="#fff" fill-opacity="1" stroke="#888" stroke-width="0.7"/>
<circle cx="458.00" cy="86.64" r="2.3" fill="#fff" fill-opacity="1" stroke="#888" stroke-width="0.7"/>
<circle cx="459.50" cy="101.92" r="2.3" fill="#fff" fill-opacity="1" stroke="#888" stroke-width="0.7"/>
<path d="M308.5,29.2H316.5" stroke="#000" stroke-width="0.9"/>
<path d="M309.90,29.20L312.50,26.60L315.10,29.20L312.50,31.80Z" fill="#000" stroke="none"/>
<text transform="translate(322.10,32.10) scale(1.037,1.0)" font-size="11.4" text-anchor="start" fill="#000" stroke="#000" stroke-width="0.25">DA: DA BM (donor with MOG-EAE)</text>
<path d="M308.5,41.9H316.5" stroke="#888" stroke-width="0.9"/>
<circle cx="312.50" cy="41.90" r="2.3" fill="#fff" fill-opacity="1" stroke="#888" stroke-width="0.7"/>
<text transform="translate(322.10,46.00) scale(1.037,1.0)" font-size="11.4" text-anchor="start" fill="#000" stroke="#000" stroke-width="0.25">DA: naive</text>
<text transform="translate(396.70,158.20)" font-size="16.5" text-anchor="middle" fill="#000" stroke="#000" stroke-width="0.25">Time [days]</text>
<text transform="translate(280.10,20.10) scale(0.975,1.0)" font-size="25.3" text-anchor="start" fill="#000" stroke="#000" stroke-width="0.25">B</text>
<path d="M162,216.90V295.8" fill="none" stroke="#3c3c3c" stroke-width="1.1"/>
<path d="M158,295.8H355" fill="none" stroke="#3c3c3c" stroke-width="1.1"/>
<path d="M157.7,295.80H162" stroke="#3c3c3c" stroke-width="0.9"/>
<text transform="translate(152.00,299.80) scale(1.055,1.0)" font-size="11.3" text-anchor="end" fill="#000" stroke="#000" stroke-width="0.25">0</text>
<path d="M157.7,276.20H162" stroke="#3c3c3c" stroke-width="0.9"/>
<text transform="translate(152.00,280.20) scale(1.055,1.0)" font-size="11.3" text-anchor="end" fill="#000" stroke="#000" stroke-width="0.25">1</text>
<path d="M157.7,256.60H162" stroke="#3c3c3c" stroke-width="0.9"/>
<text transform="translate(152.00,260.60) scale(1.055,1.0)" font-size="11.3" text-anchor="end" fill="#000" stroke="#000" stroke-width="0.25">2</text>
<path d="M157.7,237.00H162" stroke="#3c3c3c" stroke-width="0.9"/>
<text transform="translate(152.00,241.00) scale(1.055,1.0)" font-size="11.3" text-anchor="end" fill="#000" stroke="#000" stroke-width="0.25">3</text>
<path d="M157.7,217.40H162" stroke="#3c3c3c" stroke-width="0.9"/>
<text transform="translate(152.00,221.40) scale(1.055,1.0)" font-size="11.3" text-anchor="end" fill="#000" stroke="#000" stroke-width="0.25">4</text>
<path d="M162.00,295.8V300.40000000000003" stroke="#3c3c3c" stroke-width="0.9"/>
<text transform="translate(162.30,318.20) scale(1.055,1.0)" font-size="11.3" text-anchor="middle" fill="#000" stroke="#000" stroke-width="0.25">0</text>
<path d="M191.80,295.8V300.40000000000003" stroke="#3c3c3c" stroke-width="0.9"/>
<text transform="translate(192.10,318.20) scale(1.055,1.0)" font-size="11.3" text-anchor="middle" fill="#000" stroke="#000" stroke-width="0.25">20</text>
<path d="M221.60,295.8V300.40000000000003" stroke="#3c3c3c" stroke-width="0.9"/>
<text transform="translate(221.90,318.20) scale(1.055,1.0)" font-size="11.3" text-anchor="middle" fill="#000" stroke="#000" stroke-width="0.25">40</text>
<path d="M251.40,295.8V300.40000000000003" stroke="#3c3c3c" stroke-width="0.9"/>
<text transform="translate(251.70,318.20) scale(1.055,1.0)" font-size="11.3" text-anchor="middle" fill="#000" stroke="#000" stroke-width="0.25">60</text>
<path d="M281.20,295.8V300.40000000000003" stroke="#3c3c3c" stroke-width="0.9"/>
<text transform="translate(281.50,318.20) scale(1.055,1.0)" font-size="11.3" text-anchor="middle" fill="#000" stroke="#000" stroke-width="0.25">80</text>
<path d="M311.00,295.8V300.40000000000003" stroke="#3c3c3c" stroke-width="0.9"/>
<text transform="translate(311.30,318.20) scale(1.055,1.0)" font-size="11.3" text-anchor="middle" fill="#000" stroke="#000" stroke-width="0.25">100</text>
<path d="M340.80,295.8V300.40000000000003" stroke="#3c3c3c" stroke-width="0.9"/>
<text transform="translate(341.10,318.20) scale(1.055,1.0)" font-size="11.3" text-anchor="middle" fill="#000" stroke="#000" stroke-width="0.25">120</text>
<path d="M162.00,295.80L163.49,295.80L164.98,295.80L166.47,295.80L167.96,295.80L169.45,295.80L170.94,295.80L172.43,295.80L173.92,295.80L175.41,295.80L176.90,295.80L178.39,295.80L179.88,295.80L181.37,295.80L182.86,295.80L184.35,295.80L185.84,295.80L187.33,295.80L188.82,295.80L190.31,295.80L191.80,295.80L193.29,295.80L194.78,295.80L196.27,295.80L197.76,295.80L203.42,278.36L208.19,266.01L211.17,264.05L214.15,268.36L215.64,269.93L217.13,268.95L218.62,272.28L220.11,274.24L221.60,276.20L223.09,278.16L224.58,280.90L226.07,284.04L227.56,286.98L229.05,289.92L231.28,292.27L291.63,295.80L293.12,295.80L294.61,295.80L297.59,291.49L302.06,286.98L305.04,284.82L306.53,270.32L308.02,266.40L309.06,260.91L310.11,271.10L312.49,272.48L315.47,274.63L317.85,277.57L321.43,273.26L324.41,275.42L327.39,282.28L331.26,286.98L334.84,291.49L339.31,295.80" fill="none" stroke="#111" stroke-width="0.7"/>
<path d="M162.00,295.80H197.76" stroke="#000" stroke-width="4.4"/>
<path d="M291.63,295.80H294.61" stroke="#000" stroke-width="4.4"/>
<rect x="159.70" y="293.50" width="4.60" height="4.60" fill="#000"/>
<rect x="161.19" y="293.50" width="4.60" height="4.60" fill="#000"/>
<rect x="162.68" y="293.50" width="4.60" height="4.60" fill="#000"/>
<rect x="164.17" y="293.50" width="4.60" height="4.60" fill="#000"/>
<rect x="165.66" y="293.50" width="4.60" height="4.60" fill="#000"/>
<rect x="167.15" y="293.50" width="4.60" height="4.60" fill="#000"/>
<rect x="168.64" y="293.50" width="4.60" height="4.60" fill="#000"/>
<rect x="170.13" y="293.50" width="4.60" height="4.60" fill="#000"/>
<rect x="171.62" y="293.50" width="4.60" height="4.60" fill="#000"/>
<rect x="173.11" y="293.50" width="4.60" height="4.60" fill="#000"/>
<rect x="174.60" y="293.50" width="4.60" height="4.60" fill="#000"/>
<rect x="176.09" y="293.50" width="4.60" height="4.60" fill="#000"/>
<rect x="177.58" y="293.50" width="4.60" height="4.60" fill="#000"/>
<rect x="179.07" y="293.50" width="4.60" height="4.60" fill="#000"/>
<rect x="180.56" y="293.50" width="4.60" height="4.60" fill="#000"/>
<rect x="182.05" y="293.50" width="4.60" height="4.60" fill="#000"/>
<rect x="183.54" y="293.50" width="4.60" height="4.60" fill="#000"/>
<rect x="185.03" y="293.50" width="4.60" height="4.60" fill="#000"/>
<rect x="186.52" y="293.50" width="4.60" height="4.60" fill="#000"/>
<rect x="188.01" y="293.50" width="4.60" height="4.60" fill="#000"/>
<rect x="189.50" y="293.50" width="4.60" height="4.60" fill="#000"/>
<rect x="190.99" y="293.50" width="4.60" height="4.60" fill="#000"/>
<rect x="192.48" y="293.50" width="4.60" height="4.60" fill="#000"/>
<rect x="193.97" y="293.50" width="4.60" height="4.60" fill="#000"/>
<rect x="195.46" y="293.50" width="4.60" height="4.60" fill="#000"/>
<rect x="200.72" y="275.66" width="5.40" height="5.40" fill="#000"/>
<rect x="205.49" y="263.31" width="5.40" height="5.40" fill="#000"/>
<rect x="208.47" y="261.35" width="5.40" height="5.40" fill="#000"/>
<rect x="211.45" y="265.66" width="5.40" height="5.40" fill="#000"/>
<rect x="212.94" y="267.23" width="5.40" height="5.40" fill="#000"/>
<rect x="214.43" y="266.25" width="5.40" height="5.40" fill="#000"/>
<rect x="215.92" y="269.58" width="5.40" height="5.40" fill="#000"/>
<rect x="217.41" y="271.54" width="5.40" height="5.40" fill="#000"/>
<rect x="218.90" y="273.50" width="5.40" height="5.40" fill="#000"/>
<rect x="220.39" y="275.46" width="5.40" height="5.40" fill="#000"/>
<rect x="221.88" y="278.20" width="5.40" height="5.40" fill="#000"/>
<rect x="223.37" y="281.34" width="5.40" height="5.40" fill="#000"/>
<rect x="224.86" y="284.28" width="5.40" height="5.40" fill="#000"/>
<rect x="226.35" y="287.22" width="5.40" height="5.40" fill="#000"/>
<rect x="228.59" y="289.57" width="5.40" height="5.40" fill="#000"/>
<rect x="289.33" y="293.50" width="4.60" height="4.60" fill="#000"/>
<rect x="290.82" y="293.50" width="4.60" height="4.60" fill="#000"/>
<rect x="292.31" y="293.50" width="4.60" height="4.60" fill="#000"/>
<rect x="294.89" y="288.79" width="5.40" height="5.40" fill="#000"/>
<rect x="299.36" y="284.28" width="5.40" height="5.40" fill="#000"/>
<rect x="302.34" y="282.12" width="5.40" height="5.40" fill="#000"/>
<rect x="303.83" y="267.62" width="5.40" height="5.40" fill="#000"/>
<rect x="305.32" y="263.70" width="5.40" height="5.40" fill="#000"/>
<rect x="306.36" y="258.21" width="5.40" height="5.40" fill="#000"/>
<rect x="307.41" y="268.40" width="5.40" height="5.40" fill="#000"/>
<rect x="309.79" y="269.78" width="5.40" height="5.40" fill="#000"/>
<rect x="312.77" y="271.93" width="5.40" height="5.40" fill="#000"/>
<rect x="315.15" y="274.87" width="5.40" height="5.40" fill="#000"/>
<rect x="318.73" y="270.56" width="5.40" height="5.40" fill="#000"/>
<rect x="321.71" y="272.72" width="5.40" height="5.40" fill="#000"/>
<rect x="324.69" y="279.58" width="5.40" height="5.40" fill="#000"/>
<rect x="328.56" y="284.28" width="5.40" height="5.40" fill="#000"/>
<rect x="332.14" y="288.79" width="5.40" height="5.40" fill="#000"/>
<rect x="337.01" y="293.50" width="4.60" height="4.60" fill="#000"/>
<path d="M214.15,295.80L215.64,295.80L217.13,295.80L218.62,295.80L220.11,295.80L221.60,295.80L223.09,295.80L224.58,295.80L226.07,295.80L227.56,295.80L229.05,295.80L230.54,295.80L232.03,295.80L233.52,295.80L235.01,295.80L236.50,295.80L237.99,295.80L239.48,295.80L240.97,295.80L242.46,295.80L243.95,295.80L245.44,295.80L246.93,295.80L248.42,295.80L249.91,295.80L251.40,295.80L252.89,295.80L254.38,295.80L255.87,295.80L257.36,295.80L258.85,295.80L260.34,295.80L261.83,295.80L263.32,295.80L264.81,295.80L266.30,295.80L267.79,295.80L269.28,295.80L270.77,295.80L272.26,295.80L273.75,295.80L275.24,295.80L276.73,295.80L278.22,295.80L290.14,295.80L291.63,295.80L293.12,295.80L294.61,295.80L296.10,295.80L297.59,288.55L299.08,268.56L300.72,258.76L302.21,271.10L305.04,273.26L306.23,290.70L309.51,291.88L311.00,291.88L312.49,291.88L313.98,291.88L316.96,288.16L318.45,288.16L319.94,288.16L321.43,288.16L322.92,288.16L324.41,278.36L327.39,284.82L331.26,288.55L335.29,295.02L339.31,295.80L343.78,292.86" fill="none" stroke="#666" stroke-width="0.7"/>
<circle cx="214.15" cy="295.80" r="2.3" fill="#fff"/>
<circle cx="215.64" cy="295.80" r="2.3" fill="#fff"/>
<circle cx="217.13" cy="295.80" r="2.3" fill="#fff"/>
<circle cx="218.62" cy="295.80" r="2.3" fill="#fff"/>
<circle cx="220.11" cy="295.80" r="2.3" fill="#fff"/>
<circle cx="221.60" cy="295.80" r="2.3" fill="#fff"/>
<circle cx="223.09" cy="295.80" r="2.3" fill="#fff"/>
<circle cx="224.58" cy="295.80" r="2.3" fill="#fff"/>
<circle cx="226.07" cy="295.80" r="2.3" fill="#fff"/>
<circle cx="227.56" cy="295.80" r="2.3" fill="#fff"/>
<circle cx="229.05" cy="295.80" r="2.3" fill="#fff"/>
<circle cx="230.54" cy="295.80" r="2.3" fill="#fff"/>
<circle cx="232.03" cy="295.80" r="2.3" fill="#fff"/>
<circle cx="233.52" cy="295.80" r="2.3" fill="#fff"/>
<circle cx="235.01" cy="295.80" r="2.3" fill="#fff"/>
<circle cx="236.50" cy="295.80" r="2.3" fill="#fff"/>
<circle cx="237.99" cy="295.80" r="2.3" fill="#fff"/>
<circle cx="239.48" cy="295.80" r="2.3" fill="#fff"/>
<circle cx="240.97" cy="295.80" r="2.3" fill="#fff"/>
<circle cx="242.46" cy="295.80" r="2.3" fill="#fff"/>
<circle cx="243.95" cy="295.80" r="2.3" fill="#fff"/>
<circle cx="245.44" cy="295.80" r="2.3" fill="#fff"/>
<circle cx="246.93" cy="295.80" r="2.3" fill="#fff"/>
<circle cx="248.42" cy="295.80" r="2.3" fill="#fff"/>
<circle cx="249.91" cy="295.80" r="2.3" fill="#fff"/>
<circle cx="251.40" cy="295.80" r="2.3" fill="#fff"/>
<circle cx="252.89" cy="295.80" r="2.3" fill="#fff"/>
<circle cx="254.38" cy="295.80" r="2.3" fill="#fff"/>
<circle cx="255.87" cy="295.80" r="2.3" fill="#fff"/>
<circle cx="257.36" cy="295.80" r="2.3" fill="#fff"/>
<circle cx="258.85" cy="295.80" r="2.3" fill="#fff"/>
<circle cx="260.34" cy="295.80" r="2.3" fill="#fff"/>
<circle cx="261.83" cy="295.80" r="2.3" fill="#fff"/>
<circle cx="263.32" cy="295.80" r="2.3" fill="#fff"/>
<circle cx="264.81" cy="295.80" r="2.3" fill="#fff"/>
<circle cx="266.30" cy="295.80" r="2.3" fill="#fff"/>
<circle cx="267.79" cy="295.80" r="2.3" fill="#fff"/>
<circle cx="269.28" cy="295.80" r="2.3" fill="#fff"/>
<circle cx="270.77" cy="295.80" r="2.3" fill="#fff"/>
<circle cx="272.26" cy="295.80" r="2.3" fill="#fff"/>
<circle cx="273.75" cy="295.80" r="2.3" fill="#fff"/>
<circle cx="275.24" cy="295.80" r="2.3" fill="#fff"/>
<circle cx="276.73" cy="295.80" r="2.3" fill="#fff"/>
<circle cx="278.22" cy="295.80" r="2.3" fill="#fff"/>
<circle cx="290.14" cy="295.80" r="2.3" fill="#fff"/>
<circle cx="291.63" cy="295.80" r="2.3" fill="#fff"/>
<circle cx="293.12" cy="295.80" r="2.3" fill="#fff"/>
<circle cx="294.61" cy="295.80" r="2.3" fill="#fff"/>
<circle cx="296.10" cy="295.80" r="2.3" fill="#fff"/>
<circle cx="309.51" cy="291.88" r="2.3" fill="#fff"/>
<circle cx="311.00" cy="291.88" r="2.3" fill="#fff"/>
<circle cx="312.49" cy="291.88" r="2.3" fill="#fff"/>
<circle cx="313.98" cy="291.88" r="2.3" fill="#fff"/>
<circle cx="316.96" cy="288.16" r="2.3" fill="#fff"/>
<circle cx="318.45" cy="288.16" r="2.3" fill="#fff"/>
<circle cx="319.94" cy="288.16" r="2.3" fill="#fff"/>
<circle cx="321.43" cy="288.16" r="2.3" fill="#fff"/>
<circle cx="322.92" cy="288.16" r="2.3" fill="#fff"/>
<circle cx="214.15" cy="295.80" r="2.3" fill="#fff" fill-opacity="0.25" stroke="#888" stroke-width="0.7"/>
<circle cx="215.64" cy="295.80" r="2.3" fill="#fff" fill-opacity="0.25" stroke="#888" stroke-width="0.7"/>
<circle cx="217.13" cy="295.80" r="2.3" fill="#fff" fill-opacity="0.25" stroke="#888" stroke-width="0.7"/>
<circle cx="218.62" cy="295.80" r="2.3" fill="#fff" fill-opacity="0.25" stroke="#888" stroke-width="0.7"/>
<circle cx="220.11" cy="295.80" r="2.3" fill="#fff" fill-opacity="0.25" stroke="#888" stroke-width="0.7"/>
<circle cx="221.60" cy="295.80" r="2.3" fill="#fff" fill-opacity="0.25" stroke="#888" stroke-width="0.7"/>
<circle cx="223.09" cy="295.80" r="2.3" fill="#fff" fill-opacity="0.25" stroke="#888" stroke-width="0.7"/>
<circle cx="224.58" cy="295.80" r="2.3" fill="#fff" fill-opacity="0.25" stroke="#888" stroke-width="0.7"/>
<circle cx="226.07" cy="295.80" r="2.3" fill="#fff" fill-opacity="0.25" stroke="#888" stroke-width="0.7"/>
<circle cx="227.56" cy="295.80" r="2.3" fill="#fff" fill-opacity="0.25" stroke="#888" stroke-width="0.7"/>
<circle cx="229.05" cy="295.80" r="2.3" fill="#fff" fill-opacity="0.25" stroke="#888" stroke-width="0.7"/>
<circle cx="230.54" cy="295.80" r="2.3" fill="#fff" fill-opacity="0.25" stroke="#888" stroke-width="0.7"/>
<circle cx="232.03" cy="295.80" r="2.3" fill="#fff" fill-opacity="0.25" stroke="#888" stroke-width="0.7"/>
<circle cx="233.52" cy="295.80" r="2.3" fill="#fff" fill-opacity="0.25" stroke="#888" stroke-width="0.7"/>
<circle cx="235.01" cy="295.80" r="2.3" fill="#fff" fill-opacity="0.25" stroke="#888" stroke-width="0.7"/>
<circle cx="236.50" cy="295.80" r="2.3" fill="#fff" fill-opacity="0.25" stroke="#888" stroke-width="0.7"/>
<circle cx="237.99" cy="295.80" r="2.3" fill="#fff" fill-opacity="0.25" stroke="#888" stroke-width="0.7"/>
<circle cx="239.48" cy="295.80" r="2.3" fill="#fff" fill-opacity="0.25" stroke="#888" stroke-width="0.7"/>
<circle cx="240.97" cy="295.80" r="2.3" fill="#fff" fill-opacity="0.25" stroke="#888" stroke-width="0.7"/>
<circle cx="242.46" cy="295.80" r="2.3" fill="#fff" fill-opacity="0.25" stroke="#888" stroke-width="0.7"/>
<circle cx="243.95" cy="295.80" r="2.3" fill="#fff" fill-opacity="0.25" stroke="#888" stroke-width="0.7"/>
<circle cx="245.44" cy="295.80" r="2.3" fill="#fff" fill-opacity="0.25" stroke="#888" stroke-width="0.7"/>
<circle cx="246.93" cy="295.80" r="2.3" fill="#fff" fill-opacity="0.25" stroke="#888" stroke-width="0.7"/>
<circle cx="248.42" cy="295.80" r="2.3" fill="#fff" fill-opacity="0.25" stroke="#888" stroke-width="0.7"/>
<circle cx="249.91" cy="295.80" r="2.3" fill="#fff" fill-opacity="0.25" stroke="#888" stroke-width="0.7"/>
<circle cx="251.40" cy="295.80" r="2.3" fill="#fff" fill-opacity="0.25" stroke="#888" stroke-width="0.7"/>
<circle cx="252.89" cy="295.80" r="2.3" fill="#fff" fill-opacity="0.25" stroke="#888" stroke-width="0.7"/>
<circle cx="254.38" cy="295.80" r="2.3" fill="#fff" fill-opacity="0.25" stroke="#888" stroke-width="0.7"/>
<circle cx="255.87" cy="295.80" r="2.3" fill="#fff" fill-opacity="0.25" stroke="#888" stroke-width="0.7"/>
<circle cx="257.36" cy="295.80" r="2.3" fill="#fff" fill-opacity="0.25" stroke="#888" stroke-width="0.7"/>
<circle cx="258.85" cy="295.80" r="2.3" fill="#fff" fill-opacity="0.25" stroke="#888" stroke-width="0.7"/>
<circle cx="260.34" cy="295.80" r="2.3" fill="#fff" fill-opacity="0.25" stroke="#888" stroke-width="0.7"/>
<circle cx="261.83" cy="295.80" r="2.3" fill="#fff" fill-opacity="0.25" stroke="#888" stroke-width="0.7"/>
<circle cx="263.32" cy="295.80" r="2.3" fill="#fff" fill-opacity="0.25" stroke="#888" stroke-width="0.7"/>
<circle cx="264.81" cy="295.80" r="2.3" fill="#fff" fill-opacity="0.25" stroke="#888" stroke-width="0.7"/>
<circle cx="266.30" cy="295.80" r="2.3" fill="#fff" fill-opacity="0.25" stroke="#888" stroke-width="0.7"/>
<circle cx="267.79" cy="295.80" r="2.3" fill="#fff" fill-opacity="0.25" stroke="#888" stroke-width="0.7"/>
<circle cx="269.28" cy="295.80" r="2.3" fill="#fff" fill-opacity="0.25" stroke="#888" stroke-width="0.7"/>
<circle cx="270.77" cy="295.80" r="2.3" fill="#fff" fill-opacity="0.25" stroke="#888" stroke-width="0.7"/>
<circle cx="272.26" cy="295.80" r="2.3" fill="#fff" fill-opacity="0.25" stroke="#888" stroke-width="0.7"/>
<circle cx="273.75" cy="295.80" r="2.3" fill="#fff" fill-opacity="0.25" stroke="#888" stroke-width="0.7"/>
<circle cx="275.24" cy="295.80" r="2.3" fill="#fff" fill-opacity="0.25" stroke="#888" stroke-width="0.7"/>
<circle cx="276.73" cy="295.80" r="2.3" fill="#fff" fill-opacity="0.25" stroke="#888" stroke-width="0.7"/>
<circle cx="278.22" cy="295.80" r="2.3" fill="#fff" fill-opacity="0.85" stroke="#888" stroke-width="0.7"/>
<circle cx="290.14" cy="295.80" r="2.3" fill="#fff" fill-opacity="0.25" stroke="#888" stroke-width="0.7"/>
<circle cx="291.63" cy="295.80" r="2.3" fill="#fff" fill-opacity="0.25" stroke="#888" stroke-width="0.7"/>
<circle cx="293.12" cy="295.80" r="2.3" fill="#fff" fill-opacity="0.25" stroke="#888" stroke-width="0.7"/>
<circle cx="294.61" cy="295.80" r="2.3" fill="#fff" fill-opacity="0.25" stroke="#888" stroke-width="0.7"/>
<circle cx="296.10" cy="295.80" r="2.3" fill="#fff" fill-opacity="0.85" stroke="#888" stroke-width="0.7"/>
<circle cx="297.59" cy="288.55" r="2.3" fill="#fff" fill-opacity="1" stroke="#888" stroke-width="0.7"/>
<circle cx="299.08" cy="268.56" r="2.3" fill="#fff" fill-opacity="1" stroke="#888" stroke-width="0.7"/>
<circle cx="300.72" cy="258.76" r="2.3" fill="#fff" fill-opacity="1" stroke="#888" stroke-width="0.7"/>
<circle cx="302.21" cy="271.10" r="2.3" fill="#fff" fill-opacity="1" stroke="#888" stroke-width="0.7"/>
<circle cx="305.04" cy="273.26" r="2.3" fill="#fff" fill-opacity="1" stroke="#888" stroke-width="0.7"/>
<circle cx="306.23" cy="290.70" r="2.3" fill="#fff" fill-opacity="1" stroke="#888" stroke-width="0.7"/>
<circle cx="309.51" cy="291.88" r="2.3" fill="#fff" fill-opacity="0.25" stroke="#888" stroke-width="0.7"/>
<circle cx="311.00" cy="291.88" r="2.3" fill="#fff" fill-opacity="0.25" stroke="#888" stroke-width="0.7"/>
<circle cx="312.49" cy="291.88" r="2.3" fill="#fff" fill-opacity="0.25" stroke="#888" stroke-width="0.7"/>
<circle cx="313.98" cy="291.88" r="2.3" fill="#fff" fill-opacity="0.85" stroke="#888" stroke-width="0.7"/>
<circle cx="316.96" cy="288.16" r="2.3" fill="#fff" fill-opacity="0.25" stroke="#888" stroke-width="0.7"/>
<circle cx="318.45" cy="288.16" r="2.3" fill="#fff" fill-opacity="0.25" stroke="#888" stroke-width="0.7"/>
<circle cx="319.94" cy="288.16" r="2.3" fill="#fff" fill-opacity="0.25" stroke="#888" stroke-width="0.7"/>
<circle cx="321.43" cy="288.16" r="2.3" fill="#fff" fill-opacity="0.25" stroke="#888" stroke-width="0.7"/>
<circle cx="322.92" cy="288.16" r="2.3" fill="#fff" fill-opacity="0.85" stroke="#888" stroke-width="0.7"/>
<circle cx="324.41" cy="278.36" r="2.3" fill="#fff" fill-opacity="1" stroke="#888" stroke-width="0.7"/>
<circle cx="327.39" cy="284.82" r="2.3" fill="#fff" fill-opacity="1" stroke="#888" stroke-width="0.7"/>
<circle cx="331.26" cy="288.55" r="2.3" fill="#fff" fill-opacity="1" stroke="#888" stroke-width="0.7"/>
<circle cx="335.29" cy="295.02" r="2.3" fill="#fff" fill-opacity="1" stroke="#888" stroke-width="0.7"/>
<circle cx="339.31" cy="295.80" r="2.3" fill="#fff" fill-opacity="1" stroke="#888" stroke-width="0.7"/>
<circle cx="343.78" cy="292.86" r="2.3" fill="#fff" fill-opacity="1" stroke="#888" stroke-width="0.7"/>
<path d="M172.6,214.4H180.6" stroke="#000" stroke-width="0.9"/>
<rect x="173.90" y="211.70" width="5.40" height="5.40" fill="#000"/>
<text transform="translate(185.50,217.20) scale(1.128,1.0)" font-size="11.4" text-anchor="start" fill="#000" stroke="#000" stroke-width="0.25">DA: DA BM (donor with MOG-EAE)</text>
<path d="M172.6,229.4H180.6" stroke="#888" stroke-width="0.9"/>
<circle cx="176.60" cy="229.40" r="2.3" fill="#fff" fill-opacity="1" stroke="#888" stroke-width="0.7"/>
<text transform="translate(185.50,232.20) scale(1.128,1.0)" font-size="11.4" text-anchor="start" fill="#000" stroke="#000" stroke-width="0.25">DA: naive BMT</text>
<text transform="translate(266.20,337.80) scale(1.05,1.0)" font-size="16.8" text-anchor="middle" fill="#000" stroke="#000" stroke-width="0.25">Time [days]</text>
<text transform="translate(137.10,254.10) rotate(-90) scale(1.0,1.05)" font-size="18.0" text-anchor="middle" fill="#000" stroke="#000" stroke-width="0.25">Score</text>
<text transform="translate(123.20,205.20) scale(0.9,1.0)" font-size="26.4" text-anchor="start" fill="#000" stroke="#000" stroke-width="0.25">C</text>
</svg>
</body></html>
